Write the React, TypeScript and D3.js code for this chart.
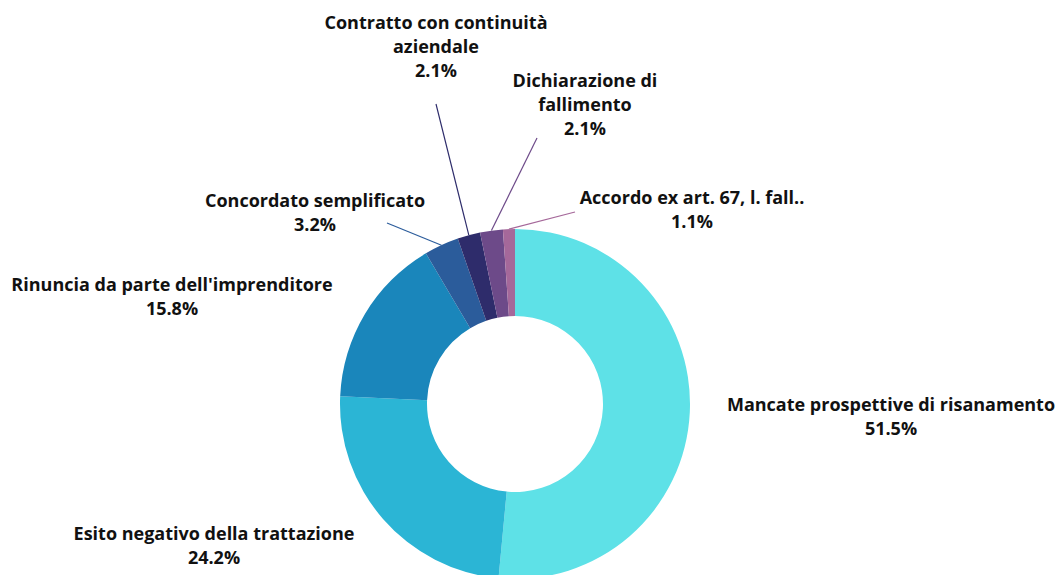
import React from 'react';
import * as d3 from 'd3';

// chart data
const categories = [
  'Mancate prospettive di risanamento',
  'Esito negativo della trattazione',
  "Rinuncia da parte dell'imprenditore",
  'Concordato semplificato',
  'Contratto con continuità aziendale',
  'Dichiarazione di fallimento',
  'Accordo ex art. 67, l. fall..',
];
const values = [51.5, 24.2, 15.8, 3.2, 2.1, 2.1, 1.1];
const labelLines = [
  ['Mancate prospettive di risanamento'],
  ['Esito negativo della trattazione'],
  ["Rinuncia da parte dell'imprenditore"],
  ['Concordato semplificato'],
  ['Contratto con continuità', 'aziendale'],
  ['Dichiarazione di', 'fallimento'],
  ['Accordo ex art. 67, l. fall..'],
];
const colors = ['#5ee1e7', '#2bb5d5', '#1a86bb', '#2b5c9b', '#2e2c6b', '#6d4a89', '#a5689a'];

// label layout: text centre x, first line baseline y, leader end (null = no leader)
const labelLayout = [
  { x: 891, y: 411, leader: null },
  { x: 214, y: 540, leader: null },
  { x: 172, y: 291, leader: null },
  { x: 315, y: 207, leader: [387, 223] },
  { x: 436, y: 29, leader: [436, 104] },
  { x: 585, y: 87, leader: [537, 138] },
  { x: 692, y: 204, leader: [575, 212] },
];

const W = 1059;
const H = 575;
const cx = 515;
const cy = 404;
const outerR = 175;
const innerR = 88;
const lineH = 24;

export default function App() {
  const data = categories.map((c, i) => ({ name: c, value: values[i], i }));
  const pie = d3.pie<any>().value(d => d.value).sort(null);
  const arcs = pie(data);
  const arc = d3.arc<any>().innerRadius(innerR).outerRadius(outerR);

  return (
    <svg width={W} height={H} style={{ position: 'absolute', left: 0, top: 0, background: '#fff' }}
      fontFamily="'Open Sans', sans-serif">
      <g transform={`translate(${cx}, ${cy})`}>
        {arcs.map((a, i) => (
          <path key={i} d={arc(a) as string} fill={colors[i]} />
        ))}
      </g>
      {arcs.map((a, i) => {
        const lay = labelLayout[i];
        if (!lay.leader) return null;
        const mid = (a.startAngle + a.endAngle) / 2;
        const x1 = cx + outerR * Math.sin(mid);
        const y1 = cy - outerR * Math.cos(mid);
        return (
          <line key={'l' + i} x1={x1} y1={y1} x2={lay.leader[0]} y2={lay.leader[1]}
            stroke={colors[i]} strokeWidth={1.2} />
        );
      })}
      {labelLines.map((lines, i) => {
        const lay = labelLayout[i];
        const all = [...lines, `${values[i].toFixed(1)}%`];
        return (
          <text key={'t' + i} x={lay.x} y={lay.y} textAnchor="middle"
            fontSize={18} fontWeight={700} fill="#111">
            {all.map((t, j) => (
              <tspan key={j} x={lay.x} y={lay.y + j * lineH}>{t}</tspan>
            ))}
          </text>
        );
      })}
    </svg>
  );
}
